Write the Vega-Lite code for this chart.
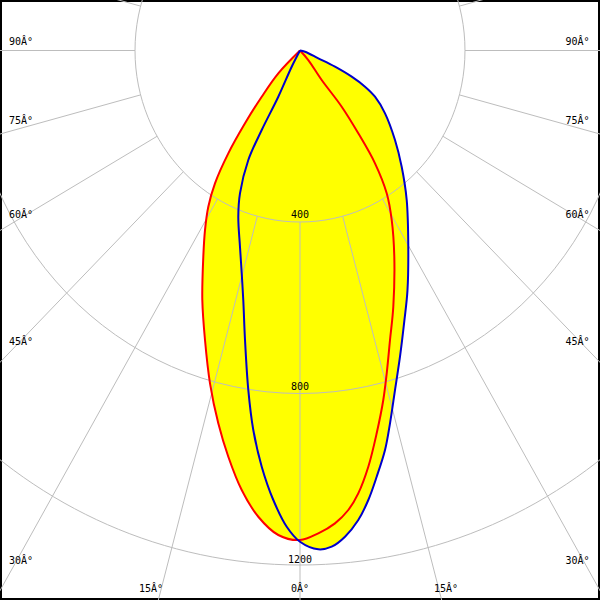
{
  "$schema": "https://vega.github.io/schema/vega-lite/v6.json",
  "width": 600,
  "height": 600,
  "padding": 0,
  "autosize": {"type": "none"},
  "background": "white",
  "config": {"view": {"stroke": "black", "strokeWidth": 4}},
  "datasets": {
    "curves": [
      {"c": "red", "i": 1, "x": 0, "y": 0},
      {"c": "red", "i": 2, "x": -52.6, "y": -53.2},
      {"c": "red", "i": 3, "x": -92.8, "y": -107.8},
      {"c": "red", "i": 4, "x": -133.3, "y": -169.8},
      {"c": "red", "i": 5, "x": -173.8, "y": -239.8},
      {"c": "red", "i": 6, "x": -206.1, "y": -309.7},
      {"c": "red", "i": 7, "x": -222.3, "y": -364.3},
      {"c": "red", "i": 8, "x": -230.3, "y": -418.7},
      {"c": "red", "i": 9, "x": -234.4, "y": -480.9},
      {"c": "red", "i": 10, "x": -236.8, "y": -581.9},
      {"c": "red", "i": 11, "x": -230.3, "y": -675.2},
      {"c": "red", "i": 12, "x": -218.2, "y": -776.2},
      {"c": "red", "i": 13, "x": -198.1, "y": -869.5},
      {"c": "red", "i": 14, "x": -173.8, "y": -947.4},
      {"c": "red", "i": 15, "x": -141.3, "y": -1025.1},
      {"c": "red", "i": 16, "x": -101.1, "y": -1087.4},
      {"c": "red", "i": 17, "x": -52.6, "y": -1130.0},
      {"c": "red", "i": 18, "x": 0, "y": -1141.7},
      {"c": "red", "i": 19, "x": 44.4, "y": -1126.1},
      {"c": "red", "i": 20, "x": 84.8, "y": -1102.8},
      {"c": "red", "i": 21, "x": 117.1, "y": -1071.7},
      {"c": "red", "i": 22, "x": 141.3, "y": -1032.8},
      {"c": "red", "i": 23, "x": 165.6, "y": -970.7},
      {"c": "red", "i": 24, "x": 185.9, "y": -892.8},
      {"c": "red", "i": 25, "x": 201.9, "y": -815.2},
      {"c": "red", "i": 26, "x": 210.2, "y": -752.9},
      {"c": "red", "i": 27, "x": 218.2, "y": -675.2},
      {"c": "red", "i": 28, "x": 226.2, "y": -597.6},
      {"c": "red", "i": 29, "x": 228.6, "y": -480.9},
      {"c": "red", "i": 30, "x": 222.3, "y": -395.3},
      {"c": "red", "i": 31, "x": 210.2, "y": -333.1},
      {"c": "red", "i": 32, "x": 181.8, "y": -263.1},
      {"c": "red", "i": 33, "x": 141.3, "y": -193.1},
      {"c": "red", "i": 34, "x": 101.1, "y": -131.1},
      {"c": "red", "i": 35, "x": 52.6, "y": -68.8},
      {"c": "red", "i": 36, "x": 20.1, "y": -22.2},
      {"c": "red", "i": 37, "x": 0, "y": 0},
      {"c": "blue", "i": 1, "x": 0, "y": 0},
      {"c": "blue", "i": 2, "x": -20.1, "y": -37.8},
      {"c": "blue", "i": 3, "x": -52.6, "y": -107.8},
      {"c": "blue", "i": 4, "x": -92.8, "y": -185.4},
      {"c": "blue", "i": 5, "x": -125.3, "y": -255.4},
      {"c": "blue", "i": 6, "x": -145.5, "y": -333.1},
      {"c": "blue", "i": 7, "x": -149.6, "y": -387.6},
      {"c": "blue", "i": 8, "x": -145.5, "y": -457.6},
      {"c": "blue", "i": 9, "x": -141.3, "y": -519.7},
      {"c": "blue", "i": 10, "x": -137.5, "y": -581.9},
      {"c": "blue", "i": 11, "x": -133.3, "y": -675.2},
      {"c": "blue", "i": 12, "x": -125.3, "y": -791.9},
      {"c": "blue", "i": 13, "x": -113.2, "y": -885.1},
      {"c": "blue", "i": 14, "x": -92.8, "y": -970.7},
      {"c": "blue", "i": 15, "x": -64.7, "y": -1048.4},
      {"c": "blue", "i": 16, "x": -32.2, "y": -1110.7},
      {"c": "blue", "i": 17, "x": 0, "y": -1145.7},
      {"c": "blue", "i": 18, "x": 44.4, "y": -1163.4},
      {"c": "blue", "i": 19, "x": 76.8, "y": -1157.3},
      {"c": "blue", "i": 20, "x": 109.1, "y": -1134.0},
      {"c": "blue", "i": 21, "x": 141.3, "y": -1095.1},
      {"c": "blue", "i": 22, "x": 165.6, "y": -1048.4},
      {"c": "blue", "i": 23, "x": 185.9, "y": -994.1},
      {"c": "blue", "i": 24, "x": 206.1, "y": -931.8},
      {"c": "blue", "i": 25, "x": 218.2, "y": -869.5},
      {"c": "blue", "i": 26, "x": 230.3, "y": -791.9},
      {"c": "blue", "i": 27, "x": 242.4, "y": -714.2},
      {"c": "blue", "i": 28, "x": 253.0, "y": -630.0},
      {"c": "blue", "i": 29, "x": 260.5, "y": -560.0},
      {"c": "blue", "i": 30, "x": 262.5, "y": -457.6},
      {"c": "blue", "i": 31, "x": 258.7, "y": -348.7},
      {"c": "blue", "i": 32, "x": 246.5, "y": -271.0},
      {"c": "blue", "i": 33, "x": 230.3, "y": -208.7},
      {"c": "blue", "i": 34, "x": 206.1, "y": -146.5},
      {"c": "blue", "i": 35, "x": 181.8, "y": -107.8},
      {"c": "blue", "i": 36, "x": 157.6, "y": -84.4},
      {"c": "blue", "i": 37, "x": 125.3, "y": -61.1},
      {"c": "blue", "i": 38, "x": 84.8, "y": -37.8},
      {"c": "blue", "i": 39, "x": 44.4, "y": -18.2},
      {"c": "blue", "i": 40, "x": 12.1, "y": -2.8},
      {"c": "blue", "i": 41, "x": 0, "y": 0}
    ],
    "circles": [{"r": 400}, {"r": 800}, {"r": 1200}],
    "spokes": [
      {"x": 0, "y": -400, "x2": 0, "y2": -2000},
      {"x": -103.5, "y": -386.4, "x2": -517.6, "y2": -1931.9},
      {"x": 103.5, "y": -386.4, "x2": 517.6, "y2": -1931.9},
      {"x": -200, "y": -346.4, "x2": -1000, "y2": -1732.1},
      {"x": 200, "y": -346.4, "x2": 1000, "y2": -1732.1},
      {"x": -282.8, "y": -282.8, "x2": -1414.2, "y2": -1414.2},
      {"x": 282.8, "y": -282.8, "x2": 1414.2, "y2": -1414.2},
      {"x": -346.4, "y": -200, "x2": -1732.1, "y2": -1000},
      {"x": 346.4, "y": -200, "x2": 1732.1, "y2": -1000},
      {"x": -386.4, "y": -103.5, "x2": -1931.9, "y2": -517.6},
      {"x": 386.4, "y": -103.5, "x2": 1931.9, "y2": -517.6},
      {"x": -400, "y": 0, "x2": -2000, "y2": 0},
      {"x": 400, "y": 0, "x2": 2000, "y2": 0},
      {"x": -386.4, "y": 103.5, "x2": -1931.9, "y2": 517.6},
      {"x": 386.4, "y": 103.5, "x2": 1931.9, "y2": 517.6}
    ],
    "labels": [
      {"t": "90Â°", "x": -676.4, "y": 20.3},
      {"t": "90Â°", "x": 672.7, "y": 20.3},
      {"t": "75Â°", "x": -676.4, "y": -165.1},
      {"t": "75Â°", "x": 672.7, "y": -165.1},
      {"t": "60Â°", "x": -676.4, "y": -383.0},
      {"t": "60Â°", "x": 672.7, "y": -383.0},
      {"t": "45Â°", "x": -676.4, "y": -680.4},
      {"t": "45Â°", "x": 672.7, "y": -680.4},
      {"t": "30Â°", "x": -676.4, "y": -1191.1},
      {"t": "30Â°", "x": 672.7, "y": -1191.1},
      {"t": "15Â°", "x": -361.2, "y": -1255.5},
      {"t": "0Â°", "x": 0, "y": -1255.5},
      {"t": "15Â°", "x": 353.9, "y": -1255.5},
      {"t": "400", "x": 0, "y": -383.7},
      {"t": "800", "x": 0, "y": -785.3},
      {"t": "1200", "x": 0, "y": -1188.3}
    ]
  },
  "layer": [
    {
      "data": {"name": "curves"},
      "mark": {"type": "line", "interpolate": "catmull-rom", "fill": "#ffff00", "strokeWidth": 0, "strokeOpacity": 0, "clip": true},
      "encoding": {
        "x": {"field": "x", "type": "quantitative", "scale": {"domain": [-727.27, 727.27], "nice": false, "zero": false}, "axis": null},
        "y": {"field": "y", "type": "quantitative", "scale": {"domain": [-1281.6, 117.8], "nice": false, "zero": false}, "axis": null},
        "order": {"field": "i", "type": "quantitative"},
        "detail": {"field": "c", "type": "nominal"}
      }
    },
    {
      "data": {"name": "spokes"},
      "mark": {"type": "rule", "color": "#bdbdbd", "strokeWidth": 1, "clip": true},
      "encoding": {
        "x": {"field": "x", "type": "quantitative", "scale": {"domain": [-727.27, 727.27], "nice": false, "zero": false}, "axis": null},
        "y": {"field": "y", "type": "quantitative", "scale": {"domain": [-1281.6, 117.8], "nice": false, "zero": false}, "axis": null},
        "x2": {"field": "x2"},
        "y2": {"field": "y2"}
      }
    },
    {
      "data": {"name": "circles"},
      "mark": {
        "type": "point",
        "shape": "M 0.962 0 C 0.962 0.5523 0.5313 1 0 1 C -0.5313 1 -0.962 0.5523 -0.962 0 C -0.962 -0.5523 -0.5313 -1 0 -1 C 0.5313 -1 0.962 -0.5523 0.962 0 Z",
        "filled": false,
        "color": "#bdbdbd",
        "strokeWidth": 1,
        "opacity": 1,
        "clip": true
      },
      "encoding": {
        "x": {"datum": 0, "type": "quantitative", "scale": {"domain": [-727.27, 727.27], "nice": false, "zero": false}, "axis": null},
        "y": {"datum": 0, "type": "quantitative", "scale": {"domain": [-1281.6, 117.8], "nice": false, "zero": false}, "axis": null},
        "size": {"field": "r", "type": "quantitative", "scale": {"type": "pow", "exponent": 2, "domain": [0, 1200], "range": [0, 1058841]}, "legend": null}
      }
    },
    {
      "data": {"name": "labels"},
      "mark": {"type": "text", "font": "DejaVu Sans Mono", "fontSize": 10, "color": "black", "align": "center", "baseline": "middle"},
      "encoding": {
        "x": {"field": "x", "type": "quantitative", "scale": {"domain": [-727.27, 727.27], "nice": false, "zero": false}, "axis": null},
        "y": {"field": "y", "type": "quantitative", "scale": {"domain": [-1281.6, 117.8], "nice": false, "zero": false}, "axis": null},
        "text": {"field": "t"}
      }
    },
    {
      "data": {"name": "curves"},
      "transform": [{"filter": "datum.c === 'red'"}],
      "mark": {"type": "line", "interpolate": "catmull-rom", "color": "#ff0000", "strokeWidth": 2, "clip": true},
      "encoding": {
        "x": {"field": "x", "type": "quantitative", "scale": {"domain": [-727.27, 727.27], "nice": false, "zero": false}, "axis": null},
        "y": {"field": "y", "type": "quantitative", "scale": {"domain": [-1281.6, 117.8], "nice": false, "zero": false}, "axis": null},
        "order": {"field": "i", "type": "quantitative"}
      }
    },
    {
      "data": {"name": "curves"},
      "transform": [{"filter": "datum.c === 'blue'"}],
      "mark": {"type": "line", "interpolate": "catmull-rom", "color": "#0000cc", "strokeWidth": 2, "clip": true},
      "encoding": {
        "x": {"field": "x", "type": "quantitative", "scale": {"domain": [-727.27, 727.27], "nice": false, "zero": false}, "axis": null},
        "y": {"field": "y", "type": "quantitative", "scale": {"domain": [-1281.6, 117.8], "nice": false, "zero": false}, "axis": null},
        "order": {"field": "i", "type": "quantitative"}
      }
    }
  ]
}
